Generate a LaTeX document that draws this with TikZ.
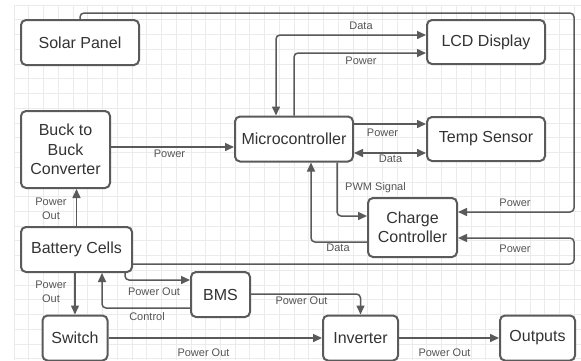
\documentclass[tikz,border=0pt]{standalone}
\usepackage{fontspec}
\setmainfont{Liberation Sans}
\usepackage{tikz}
\usetikzlibrary{arrows.meta, positioning}
\usepackage{xcolor}
\definecolor{boxline}{HTML}{5A5A5A}
\definecolor{textdark}{HTML}{333333}
\definecolor{labelgray}{HTML}{555555}
\definecolor{gridgray}{HTML}{EBEBEB}

\begin{document}
\begin{tikzpicture}[
  x=1pt, y=-1pt,
  box/.style={rectangle, rounded corners=5pt, draw=boxline, line width=2pt, fill=white,
              text=textdark, font=\fontsize{16}{19.5}\selectfont, align=center, inner sep=0pt},
  arrow/.style={-{Triangle[length=9pt,width=8pt]}, line width=1.5pt, draw=boxline, rounded corners=4pt},
  dblarrow/.style={arrow, {Triangle[length=9pt,width=8pt]}-{Triangle[length=9pt,width=8pt]}},
  lbl/.style={font=\fontsize{11}{14}\selectfont, text=labelgray, inner sep=0pt, align=center},
  gridline/.style={draw=gridgray, line width=0.7pt}
]
  \useasboundingbox (0,0) rectangle (581,360);
  \fill[white] (0,0) rectangle (581,360);
  % background grid
  \foreach \i in {0,...,38} \draw[gridline] (14+\i*14.74,5) -- (14+\i*14.74,360);
  \foreach \j in {0,...,24} \draw[gridline] (14,5+\j*14.74) -- (581,5+\j*14.74);

  \node[box, minimum width=118pt, minimum height=45pt] (solar)    at (80,42.5)   {Solar Panel};
  \node[box, minimum width=118pt, minimum height=44pt] (lcd)      at (486,42)    {LCD Display};
  \node[box, minimum width=89pt,  minimum height=77pt] (buck)     at (65.5,149.5) {Buck to\\Buck\\Converter};
  \node[box, minimum width=118pt, minimum height=45pt] (micro)    at (294,139)   {Microcontroller};
  \node[box, minimum width=118pt, minimum height=44pt] (temp)     at (486,139)   {Temp Sensor};
  \node[box, minimum width=89pt,  minimum height=59pt] (charge)   at (412.5,227.5) {Charge\\Controller};
  \node[box, minimum width=111pt, minimum height=45pt] (battery)  at (76.5,249.5) {Battery Cells};
  \node[box, minimum width=59pt,  minimum height=45pt] (bms)      at (220.5,294.5) {BMS};
  \node[box, minimum width=65pt,  minimum height=45pt] (switch)   at (75,338)    {Switch};
  \node[box, minimum width=75pt,  minimum height=45pt] (inverter) at (360.5,338) {Inverter};
  \node[box, minimum width=75pt,  minimum height=45pt] (outputs)  at (537.5,338) {Outputs};

  \draw[arrow] (solar.north) |- (574,13) |- ([yshift=15.5pt]charge.east);
  \draw[arrow] ([yshift=-14.5pt]battery.east) -| (574,238) -- ([yshift=-10.5pt]charge.east);
  \draw[dblarrow] ([yshift=7pt]lcd.west) -| ([xshift=-18pt]micro.north);
  \draw[arrow] (micro.north) |- ([yshift=-11pt]lcd.west);
  \draw[arrow] ([yshift=15pt]micro.east) -- ([yshift=15pt]temp.west);
  \draw[dblarrow] ([yshift=-14pt]micro.east) -- ([yshift=-14pt]temp.west);
  \draw[arrow] ([xshift=43pt]micro.south) |- ([yshift=11.5pt]charge.west);
  \draw[arrow] ([yshift=-14.5pt]charge.west) -| ([xshift=17pt]micro.south);
  \draw[arrow] ([yshift=2.5pt]buck.east) -- ([yshift=-8pt]micro.west);
  \draw[arrow] (battery.north) -- (battery.north |- buck.south);
  \draw[arrow] (switch.north |- battery.south) -- (switch.north);
  \draw[arrow] ([xshift=48.5pt]battery.south) |- ([yshift=14.5pt]bms.west);
  \draw[arrow] ([yshift=-13.5pt]bms.west) -| ([xshift=25.5pt]battery.south);
  \draw[arrow] ([yshift=0.5pt]bms.east) -| (inverter.north);
  \draw[arrow] (switch.east) -- (inverter.west);
  \draw[arrow] (inverter.east) -- (outputs.west);

  \node[lbl] (lsolar)  at (515,203)   {Power};
  \node[lbl] (lbatch)  at (515,248.5) {Power};
  \node[lbl] (llcdd)   at (361,26)    {Data};
  \node[lbl] (llcdp)   at (361,61)    {Power};
  \node[lbl] (ltempp)  at (382.5,133) {Power};
  \node[lbl] (ltempd)  at (390.5,159) {Data};
  \node[lbl] (lpwm)    at (375.5,188) {PWM Signal};
  \node[lbl] (lchgd)   at (338,248)   {Data};
  \node[lbl] (lbuck)   at (169.5,154) {Power};
  \node[lbl] (lbatup)  at (51,209)    {Power\\Out};
  \node[lbl] (lbatdn)  at (51,292)    {Power\\Out};
  \node[lbl] (lbmsin)  at (154,292)   {Power Out};
  \node[lbl] (lctrl)   at (147,317)   {Control};
  \node[lbl] (lbmsout) at (301.5,301) {Power Out};
  \node[lbl] (lswitch) at (203.5,353) {Power Out};
  \node[lbl] (linv)    at (444.5,353) {Power Out};
\end{tikzpicture}
\end{document}
